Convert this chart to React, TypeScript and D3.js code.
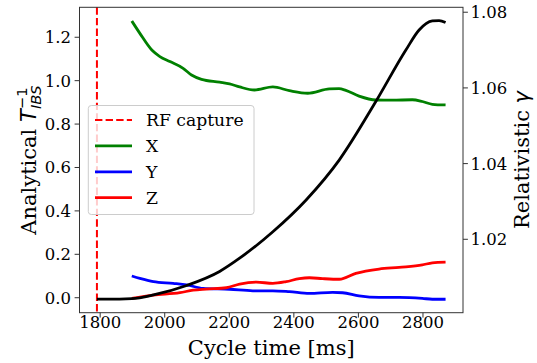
import React from "react";
import * as d3 from "d3";

const rfCapture = 1790;

const gammaTime = [1790, 1860, 1898, 1965, 2068, 2170, 2232, 2335, 2438, 2541, 2654, 2747, 2788, 2829, 2850, 2870];
const gammaValues = [1.0042, 1.0042, 1.0043, 1.0053, 1.0078, 1.0115, 1.015, 1.022, 1.0304, 1.041, 1.0564, 1.07, 1.0753, 1.0777, 1.0778, 1.0773];

const xTime = [1898, 1923, 1960, 1985, 2016, 2057, 2083, 2114, 2170, 2201, 2232, 2278, 2335, 2386, 2443, 2510, 2540, 2561, 2602, 2654, 2705, 2767, 2798, 2829, 2870];
const xValues = [1.275, 1.218, 1.141, 1.111, 1.088, 1.057, 1.026, 1.006, 0.993, 0.985, 0.971, 0.957, 0.971, 0.954, 0.942, 0.962, 0.963, 0.955, 0.929, 0.911, 0.91, 0.912, 0.904, 0.891, 0.888];

const yTime = [1898, 1923, 1965, 2026, 2068, 2119, 2201, 2273, 2335, 2386, 2448, 2520, 2551, 2602, 2664, 2726, 2798, 2829, 2870];
const yValues = [0.1, 0.089, 0.074, 0.066, 0.059, 0.043, 0.039, 0.032, 0.032, 0.028, 0.02, 0.025, 0.023, 0.009, 0.002, 0.002, -0.003, -0.007, -0.007];

const zTime = [1898, 1965, 2047, 2088, 2129, 2191, 2232, 2284, 2335, 2376, 2417, 2448, 2489, 2541, 2592, 2664, 2726, 2798, 2829, 2870];
const zValues = [-0.003, 0.012, 0.023, 0.035, 0.04, 0.046, 0.063, 0.072, 0.066, 0.074, 0.088, 0.092, 0.088, 0.085, 0.112, 0.132, 0.14, 0.151, 0.161, 0.164];

const xTicks = [1800, 2000, 2200, 2400, 2600, 2800];
const leftTicks = [0.0, 0.2, 0.4, 0.6, 0.8, 1.0, 1.2];
const rightTicks = [1.02, 1.04, 1.06, 1.08];

const legendItems = [
  { label: "RF capture", color: "#ff0000", dashed: true },
  { label: "X", color: "#008000", dashed: false },
  { label: "Y", color: "#0000ff", dashed: false },
  { label: "Z", color: "#ff0000", dashed: false },
];

const L = 79.5, R = 463, T = 7.3, B = 312.7;
const serif = "'DejaVu Serif', serif";
const sans = "'DejaVu Sans', sans-serif";

export default function App() {
  const x = d3.scaleLinear().domain([1736, 2924]).range([L, R]);
  const yL = d3.scaleLinear().domain([-0.069, 1.338]).range([B, T]);
  const yR = d3.scaleLinear().domain([1.0006, 1.0813]).range([B, T]);

  const mk = (ts: number[], vs: number[], ys: d3.ScaleLinear<number, number>) =>
    d3
      .line<number>()
      .x((_, i) => x(ts[i]))
      .y((v) => ys(v))
      .curve(d3.curveMonotoneX)(vs) as string;

  const spine = "#333";
  return (
    <svg width={537} height={363} style={{ position: "absolute", left: 0, top: 0 }}>
      <rect width={537} height={363} fill="#fff" />
      <line x1={x(rfCapture)} x2={x(rfCapture)} y1={T} y2={B} stroke="#ff0000" strokeWidth={2} strokeDasharray="7.4 3.2" />
      <path d={mk(xTime, xValues, yL)} fill="none" stroke="#008000" strokeWidth={2.8} />
      <path d={mk(yTime, yValues, yL)} fill="none" stroke="#0000ff" strokeWidth={2.8} />
      <path d={mk(zTime, zValues, yL)} fill="none" stroke="#ff0000" strokeWidth={2.8} />
      <g>
        <rect x={88.3} y={105.5} width={165.7} height={109} rx={3} fill="#fff" fillOpacity={0.8} stroke="#cccccc" strokeWidth={1} />
        {legendItems.map((d, i) => {
          const cy = 120 + i * 25.9;
          return (
            <g key={d.label}>
              <line x1={95} x2={132} y1={cy} y2={cy} stroke={d.color} strokeWidth={d.dashed ? 2 : 2.8} strokeDasharray={d.dashed ? "7.4 3.2" : undefined} />
              <text x={146} y={cy + 6} fontFamily={serif} fontSize={17.2} fill="#000">{d.label}</text>
            </g>
          );
        })}
      </g>
      <path d={mk(gammaTime, gammaValues, yR)} fill="none" stroke="#000" strokeWidth={2.8} />
      <rect x={L} y={T} width={R - L} height={B - T} fill="none" stroke={spine} strokeWidth={1} />
      {xTicks.map((t) => (
        <g key={t}>
          <line x1={x(t)} x2={x(t)} y1={B} y2={B + 4.9} stroke={spine} />
          <text x={x(t)} y={327.5} textAnchor="middle" fontFamily={serif} fontSize={16.5}>{t}</text>
        </g>
      ))}
      {leftTicks.map((t) => (
        <g key={t}>
          <line x1={L - 4.9} x2={L} y1={yL(t)} y2={yL(t)} stroke={spine} />
          <text x={L - 8.5} y={yL(t)} dy="0.36em" textAnchor="end" fontFamily={serif} fontSize={16.5}>{t.toFixed(1)}</text>
        </g>
      ))}
      {rightTicks.map((t) => (
        <g key={t}>
          <line x1={R} x2={R + 4.9} y1={yR(t)} y2={yR(t)} stroke={spine} />
          <text x={R + 7.5} y={yR(t)} dy="0.36em" textAnchor="start" fontFamily={serif} fontSize={16.5}>{t.toFixed(2)}</text>
        </g>
      ))}
      <text x={(L + R) / 2} y={355} textAnchor="middle" fontFamily={serif} fontSize={21}>Cycle time [ms]</text>
      <text transform={`translate(35.5,160) rotate(-90)`} textAnchor="middle" fontFamily={serif} fontSize={21}>
        Analytical{" "}
        <tspan fontFamily={sans} fontStyle="italic">T</tspan>
        <tspan fontFamily={sans} fontSize={14.7} dy={-9}>−1</tspan>
        <tspan fontFamily={sans} fontSize={14.7} fontStyle="italic" dx={-21.6} dy={14}>IBS</tspan>
      </text>
      <text transform={`translate(528.5,160) rotate(-90)`} textAnchor="middle" fontFamily={serif} fontSize={21}>
        Relativistic <tspan fontFamily={sans} fontStyle="italic">γ</tspan>
      </text>
    </svg>
  );
}
